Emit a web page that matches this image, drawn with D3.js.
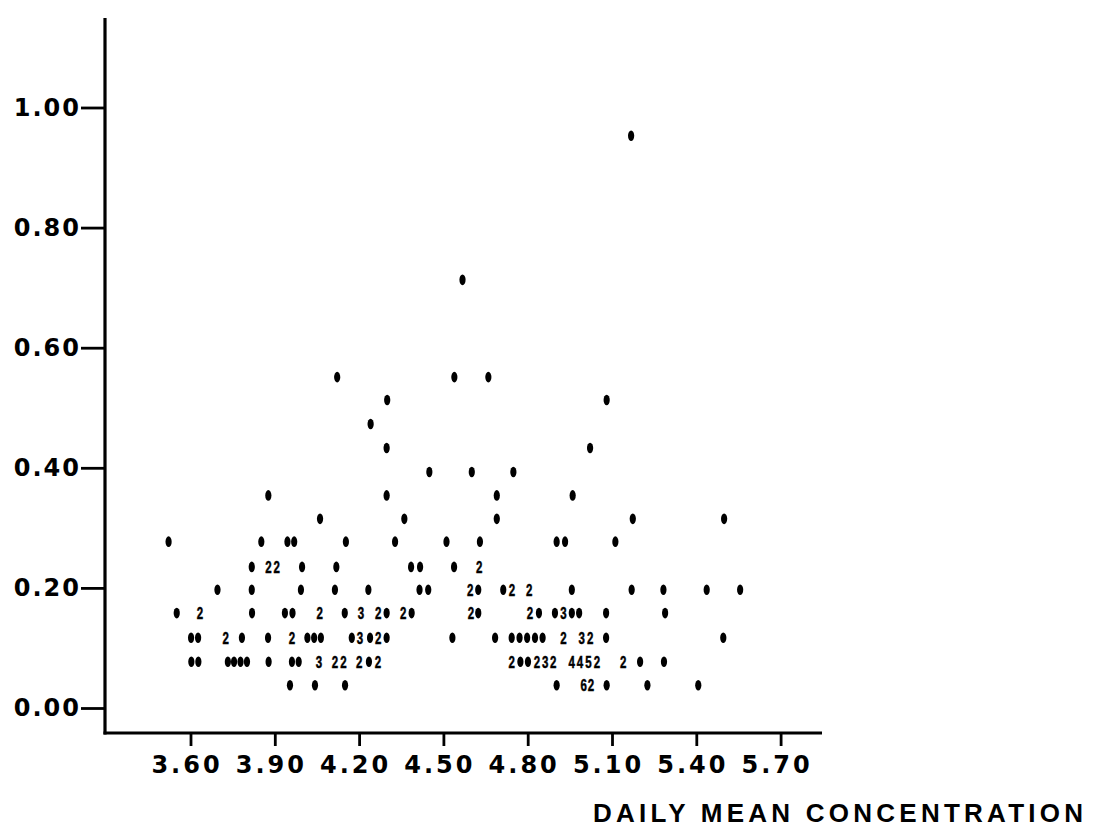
<!DOCTYPE html>
<html>
<head>
<meta charset="utf-8">
<script src="https://cdn.jsdelivr.net/npm/d3@7"></script>
<style>
  html, body { margin: 0; padding: 0; background: #fff; }
  svg { display: block; }
</style>
</head>
<body>
<svg id="chart" width="1113" height="828"></svg>
<script>
// ---------------- DATA ----------------
const xTicks = [3.60, 3.90, 4.20, 4.50, 4.80, 5.10, 5.40, 5.70];
const yTicks = [0.00, 0.20, 0.40, 0.60, 0.80, 1.00];
const xTitle = "DAILY MEAN CONCENTRATION";

// printed row levels (y value of each line of the plot)
const rowY = [0.038, 0.077, 0.117, 0.158, 0.197, 0.235, 0.277, 0.315,
              0.354, 0.393, 0.433, 0.473, 0.513, 0.551, 0.713, 0.953];

// x positions in each row, with the number of observations at that spot (1 = "*")
const row0  = [[3.954,1],[4.043,1],[4.150,1],[4.903,1],[4.999,6],[5.025,2],[5.081,1],[5.226,1],[5.407,1]];
const row1  = [[3.603,1],[3.628,1],[3.733,1],[3.755,1],[3.778,1],[3.801,1],[3.878,1],[3.961,1],[3.985,1],
               [4.057,3],[4.114,2],[4.144,2],[4.200,2],[4.235,1],[4.267,2],[4.743,2],[4.774,1],[4.801,1],
               [4.833,2],[4.862,3],[4.891,2],[4.957,4],[4.986,4],[5.016,5],[5.046,2],[5.140,2],[5.200,1],[5.285,1]];
const row2  = [[3.602,1],[3.627,1],[3.725,2],[3.783,1],[3.876,1],[3.961,2],[4.016,1],[4.040,1],[4.064,1],
               [4.174,1],[4.203,3],[4.239,1],[4.268,2],[4.298,1],[4.532,1],[4.684,1],[4.743,1],[4.771,1],
               [4.798,1],[4.826,1],[4.853,1],[4.927,2],[4.992,3],[5.022,2],[5.079,1],[5.496,1]];
const row3  = [[3.551,1],[3.634,2],[3.819,1],[3.936,1],[3.963,1],[4.060,2],[4.149,1],[4.207,3],[4.268,2],
               [4.298,1],[4.357,2],[4.387,1],[4.598,2],[4.624,1],[4.808,2],[4.840,1],[4.897,1],[4.927,3],
               [4.957,1],[4.983,1],[5.079,1],[5.289,1]];
const row4  = [[3.696,1],[3.818,1],[3.993,1],[4.114,1],[4.233,1],[4.415,1],[4.446,1],[4.595,2],[4.624,1],
               [4.713,1],[4.744,2],[4.805,2],[4.957,1],[5.170,1],[5.283,1],[5.437,1],[5.556,1]];
const row5  = [[3.818,1],[3.877,2],[3.907,2],[3.997,1],[4.119,1],[4.385,1],[4.417,1],[4.538,1],[4.627,2]];
const row6  = [[3.522,1],[3.852,1],[3.945,1],[3.969,1],[4.153,1],[4.328,1],[4.511,1],[4.630,1],[4.903,1],
               [4.933,1],[5.112,1]];
const row7  = [[4.061,1],[4.361,1],[4.690,1],[5.174,1],[5.499,1]];
const row8  = [[3.877,1],[4.298,1],[4.690,1],[4.960,1]];
const row9  = [[4.450,1],[4.601,1],[4.749,1]];
const row10 = [[4.298,1],[5.022,1]];
const row11 = [[4.241,1]];
const row12 = [[4.300,1],[5.081,1]];
const row13 = [[4.122,1],[4.539,1],[4.660,1]];
const row14 = [[4.568,1]];
const row15 = [[5.168,1]];
const rows = [row0,row1,row2,row3,row4,row5,row6,row7,row8,row9,row10,row11,row12,row13,row14,row15];

// ---------------- CHART ----------------
const svg = d3.select("#chart");
svg.append("rect").attr("width", 1113).attr("height", 828).attr("fill", "#fff");

const x = d3.scaleLinear().domain([3.6, 5.7]).range([190.5, 780.6]);
const y = d3.scaleLinear().domain([0, 1]).range([708, 107.5]);

const axisX0 = 105, axisY0 = 733;

// axis lines
svg.append("line").attr("x1", axisX0).attr("x2", axisX0).attr("y1", 18).attr("y2", axisY0 + 1.5)
  .attr("stroke", "#000").attr("stroke-width", 3.2);
svg.append("line").attr("x1", axisX0 - 1.5).attr("x2", 822).attr("y1", axisY0).attr("y2", axisY0)
  .attr("stroke", "#000").attr("stroke-width", 3.2);

// x axis ticks
const gx = svg.append("g").attr("transform", `translate(0,${axisY0})`)
  .call(d3.axisBottom(x).tickValues(xTicks).tickFormat(d3.format(".2f"))
        .tickSize(13).tickSizeOuter(0).tickPadding(9.5));
gx.select(".domain").remove();
gx.selectAll(".tick line").attr("stroke", "#000").attr("stroke-width", 2.8);
gx.selectAll(".tick text")
  .attr("fill", "#000")
  .attr("dx", -4)
  .style("font-family", "'DejaVu Sans', sans-serif")
  .style("font-weight", "bold")
  .style("font-size", "24px")
  .style("letter-spacing", "3px");

// y axis ticks
const gy = svg.append("g").attr("transform", `translate(${axisX0},0)`)
  .call(d3.axisLeft(y).tickValues(yTicks).tickFormat(d3.format(".2f"))
        .tickSize(24).tickSizeOuter(0).tickPadding(0));
gy.select(".domain").remove();
gy.selectAll(".tick line").attr("stroke", "#000").attr("stroke-width", 2.8);
gy.selectAll(".tick text")
  .attr("fill", "#000")
  .style("font-family", "'DejaVu Sans', sans-serif")
  .style("font-weight", "bold")
  .style("font-size", "24px")
  .style("letter-spacing", "2px");

// axis title
svg.append("text")
  .attr("x", 593).attr("y", 822)
  .attr("textLength", 490).attr("lengthAdjust", "spacing")
  .style("font-family", "'Liberation Sans', Arial, sans-serif")
  .style("font-weight", "bold")
  .style("font-size", "26px")
  .attr("fill", "#000")
  .text(xTitle);

// points
const pts = [];
rows.forEach((r, i) => r.forEach(([xv, n]) => pts.push({x: xv, y: rowY[i], n})));

const plot = svg.append("g");
plot.selectAll("ellipse.star").data(pts.filter(d => d.n === 1)).join("ellipse")
  .attr("class", "star")
  .attr("cx", d => x(d.x)).attr("cy", d => y(d.y))
  .attr("rx", 3.1).attr("ry", 5.3)
  .attr("fill", "#000");

const digitW = 6.4;
plot.selectAll("text.count").data(pts.filter(d => d.n > 1)).join("text")
  .attr("class", "count")
  .attr("x", d => x(d.x) - digitW / 2).attr("y", d => y(d.y))
  .attr("dy", "0.36em")
  .attr("textLength", digitW).attr("lengthAdjust", "spacingAndGlyphs")
  .style("font-family", "'Liberation Sans', Arial, sans-serif")
  .style("font-weight", "bold")
  .style("font-size", "17px")
  .attr("fill", "#000")
  .attr("stroke", "#000")
  .attr("stroke-width", 0.5)
  .text(d => d.n);
</script>
</body>
</html>
